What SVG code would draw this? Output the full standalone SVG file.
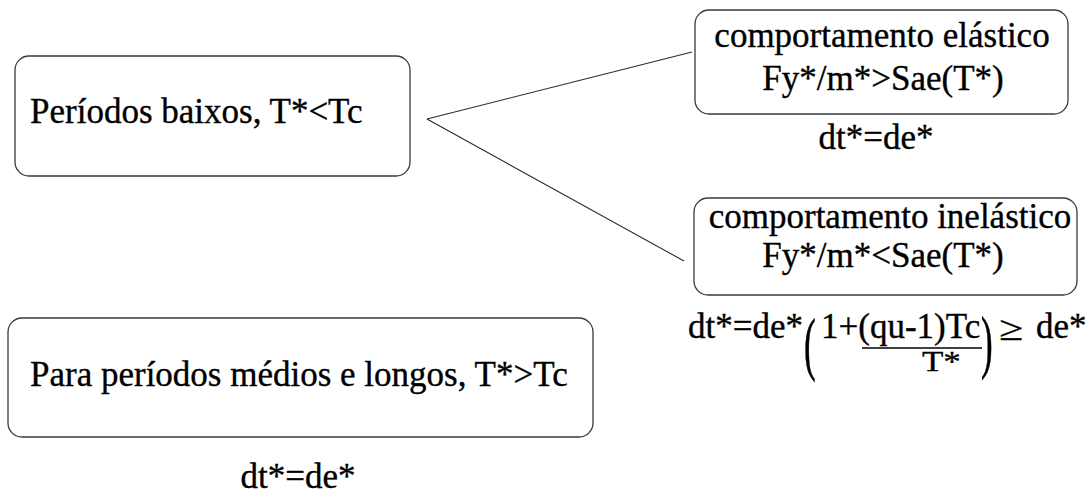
<svg xmlns="http://www.w3.org/2000/svg" width="1091" height="494" viewBox="0 0 1091 494">
  <style>
    .box { fill: #ffffff; stroke: #3a3a3a; stroke-width: 1.3; }
    text { font-family: "Liberation Serif", "Times New Roman", serif; font-size: 35px; fill: #000000; stroke: #000000; stroke-width: 0.35; }
    .mid { text-anchor: middle; }
    .link { stroke: #2a2a2a; stroke-width: 1.1; fill: none; }
  </style>
  <rect width="1091" height="494" fill="#ffffff"/>

  <!-- connectors from the short-period node to the two behaviour nodes -->
  <g id="connectors">
    <line class="link" x1="427" y1="119" x2="692" y2="52"/>
    <line class="link" x1="427" y1="119" x2="684" y2="261"/>
  </g>

  <!-- short periods -->
  <g id="node-short">
    <rect class="box" x="15" y="56" width="395" height="120" rx="14"/>
    <text x="30" y="123">Períodos baixos, T*&lt;Tc</text>
  </g>

  <!-- elastic behaviour -->
  <g id="node-elastic">
    <rect class="box" x="695" y="10" width="373" height="104" rx="14"/>
    <text class="mid" x="882" y="47">comportamento elástico</text>
    <text class="mid" x="883" y="90">Fy*/m*&gt;Sae(T*)</text>
  </g>
  <text id="eq-elastic" class="mid" x="876" y="149">dt*=de*</text>

  <!-- inelastic behaviour -->
  <g id="node-inelastic">
    <rect class="box" x="694" y="198" width="383" height="97" rx="14"/>
    <text class="mid" x="890" y="228">comportamento inelástico</text>
    <text class="mid" x="883" y="267">Fy*/m*&lt;Sae(T*)</text>
  </g>

  <!-- inelastic target displacement formula -->
  <g id="eq-inelastic">
    <text x="688" y="338">dt*=de*</text>
    <text transform="translate(804,367) scale(1,2)">(</text>
    <text x="821" y="338">1+(qu-1)Tc</text>
    <line x1="862" y1="348" x2="982" y2="348" stroke="#000000" stroke-width="1.6"/>
    <text transform="translate(922,371) scale(1,0.86)">T*</text>
    <text transform="translate(981,365) scale(1,2)">)</text>
    <text transform="translate(999,340) scale(1.25,1)">≥</text>
    <text x="1036" y="338">de*</text>
  </g>

  <!-- medium and long periods -->
  <g id="node-long">
    <rect class="box" x="8" y="318" width="585" height="119" rx="14"/>
    <text x="30" y="386">Para períodos médios e longos, T*&gt;Tc</text>
  </g>
  <text id="eq-long" class="mid" x="298" y="488">dt*=de*</text>
</svg>
